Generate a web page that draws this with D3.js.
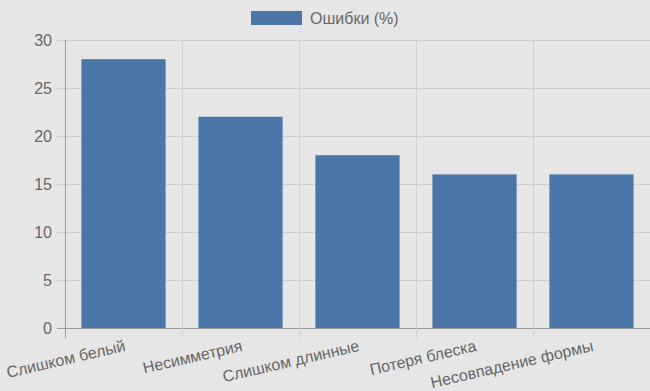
<!DOCTYPE html>
<html>
<head>
<meta charset="utf-8">
<script src="https://cdn.jsdelivr.net/npm/d3@7"></script>
<style>
  html, body { margin: 0; padding: 0; background: #e6e6e6; }
  text { font-family: "Liberation Sans", Arial, sans-serif; fill: #666; }
</style>
</head>
<body>
<div id="chart"></div>
<script>
const categories = ["Слишком белый", "Несимметрия", "Слишком длинные", "Потеря блеска", "Несовпадение формы"];
const errorValues = [28, 22, 18, 16, 16];
const yTicks = [0, 5, 10, 15, 20, 25, 30];
const seriesName = "Ошибки (%)";

const W = 650, H = 391;
const margin = { top: 40, right: 0, bottom: 63, left: 65 };
const width = W - margin.left - margin.right;
const height = H - margin.top - margin.bottom;
const barColor = "#4a76a8";

const svg = d3.select("#chart").append("svg")
    .attr("width", W)
    .attr("height", H);

svg.append("rect").attr("width", W).attr("height", H).attr("fill", "#e6e6e6");

const g = svg.append("g")
    .attr("transform", "translate(" + margin.left + "," + margin.top + ")");

const x = d3.scaleBand()
    .domain(categories)
    .range([0, width]);

const y = d3.scaleLinear()
    .domain([0, 30])
    .range([height, 0]);

// horizontal grid + y ticks
g.selectAll(".hgrid")
    .data(yTicks)
    .enter().append("line")
    .attr("x1", -8)
    .attr("x2", width)
    .attr("y1", d => y(d) + 0.5)
    .attr("y2", d => y(d) + 0.5)
    .attr("stroke", d => d === 0 ? "#999" : "#cfcfcf")
    .attr("stroke-width", 1);

// vertical grid lines (category boundaries)
const bounds = categories.map(c => x(c)).concat([width]);
g.selectAll(".vgrid")
    .data(bounds)
    .enter().append("line")
    .attr("x1", d => Math.round(d) + 0.5)
    .attr("x2", d => Math.round(d) + 0.5)
    .attr("y1", 0)
    .attr("y2", height + 10)
    .attr("stroke", (d, i) => i === 0 ? "#999" : "#cfcfcf")
    .attr("stroke-width", 1);

// y labels
g.selectAll(".ylab")
    .data(yTicks)
    .enter().append("text")
    .attr("x", -13)
    .attr("y", d => y(d))
    .attr("dy", "0.35em")
    .attr("text-anchor", "end")
    .style("font-size", "16px")
    .text(d => d);

// bars
const barW = x.bandwidth() * 0.72;
g.selectAll(".bar")
    .data(categories)
    .enter().append("rect")
    .attr("class", "bar")
    .attr("x", d => x(d) + (x.bandwidth() - barW) / 2)
    .attr("width", barW)
    .attr("y", (d, i) => y(errorValues[i]))
    .attr("height", (d, i) => height - y(errorValues[i]))
    .attr("fill", barColor);

// x labels, rotated
g.selectAll(".xlab")
    .data(categories)
    .enter().append("text")
    .attr("text-anchor", "end")
    .attr("transform", d => "translate(" + (x(d) + x.bandwidth() / 2) + "," + (height + 11) + ") rotate(-13)")
    .attr("dy", "0.75em")
    .style("font-size", "16px")
    .text(d => d);

// legend
const legend = svg.append("g").attr("transform", "translate(251,11)");
legend.append("rect")
    .attr("width", 51)
    .attr("height", 14)
    .attr("fill", barColor);
legend.append("text")
    .attr("x", 59)
    .attr("y", 7)
    .attr("dy", "0.35em")
    .style("font-size", "16px")
    .text(seriesName);
</script>
</body>
</html>
